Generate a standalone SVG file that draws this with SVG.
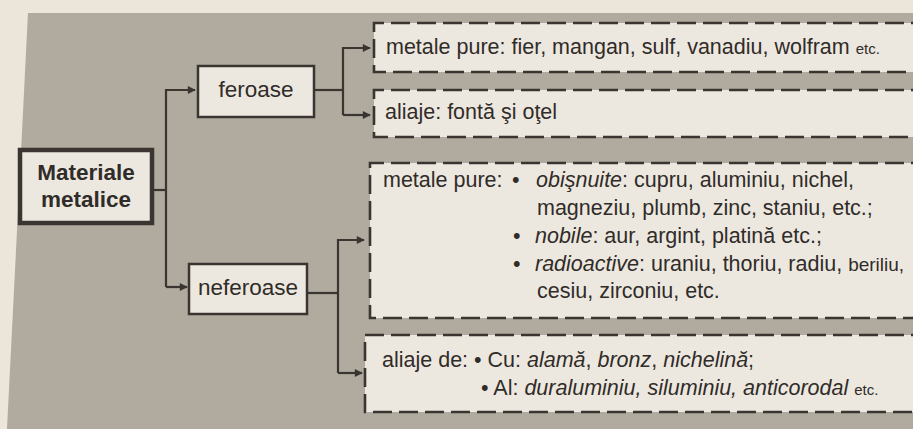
<svg xmlns="http://www.w3.org/2000/svg" width="913" height="429" viewBox="0 0 913 429">
<defs>
<style>
.node{fill:#ede8df;stroke:#3a3531;stroke-width:2.5}
.main{fill:#ede8df;stroke:#3a3531;stroke-width:4.5}
.dash{fill:#ede8df;stroke:#3a3531;stroke-width:2.6;stroke-dasharray:19 7}
.lbl{font-family:"Liberation Sans",Arial,sans-serif;font-size:22.5px;fill:#302c29}
.bold{font-weight:bold}
.txt{font-family:"Liberation Sans",Arial,sans-serif;font-size:21.5px;fill:#302c29}
.it{font-style:italic}
.sm{font-size:15px}
.con{fill:none;stroke:#3a3531;stroke-width:2.2}
</style>
<marker id="ah" viewBox="0 0 10 10" refX="9" refY="5" markerWidth="9" markerHeight="8" markerUnits="userSpaceOnUse" orient="auto">
<path d="M0,0 L10,5 L0,10 Z" fill="#3a3531"/>
</marker>
</defs>
<rect x="0" y="0" width="913" height="429" fill="#ebe5da"/>
<path d="M28,13 L913,13 L913,429 L7,429 Z" fill="#b0aa9f"/>

<g id="connectors">
<path class="con" d="M152,190 H166"/>
<path class="con" d="M166,287 V90 H195" marker-end="url(#ah)"/>
<path class="con" d="M166,287 H187" marker-end="url(#ah)"/>
<path class="con" d="M314,90 H343"/>
<path class="con" d="M343,115 V48 H370" marker-end="url(#ah)"/>
<path class="con" d="M343,115 H370" marker-end="url(#ah)"/>
<path class="con" d="M307,293 H338"/>
<path class="con" d="M338,373 V240 H364" marker-end="url(#ah)"/>
<path class="con" d="M338,373 H362" marker-end="url(#ah)"/>
</g>

<g id="materiale">
<rect class="main" x="20" y="150" width="132" height="73"/>
<text class="lbl bold" x="86" y="180" text-anchor="middle">Materiale</text>
<text class="lbl bold" x="86" y="207" text-anchor="middle">metalice</text>
</g>

<g id="feroase">
<rect class="node" x="198" y="66" width="116" height="51"/>
<text class="lbl" x="256" y="97" text-anchor="middle">feroase</text>
</g>

<g id="neferoase">
<rect class="node" x="189" y="264" width="118" height="50"/>
<text class="lbl" x="248" y="295" text-anchor="middle">neferoase</text>
</g>

<g id="fer-pure">
<path class="dash" d="M930,23 H374 V72 H930"/>
<text class="txt" x="386" y="54">metale pure: fier, mangan, sulf, vanadiu, wolfram <tspan class="sm">etc.</tspan></text>
</g>

<g id="fer-aliaje">
<path class="dash" d="M930,90 H374 V137 H930"/>
<text class="txt" x="385" y="119">aliaje: fontă şi oţel</text>
</g>

<g id="nefer-pure">
<path class="dash" d="M930,163 H370 V318 H930"/>
<text class="txt" x="383" y="187">metale pure:</text>
<text class="txt" x="512" y="187">•</text>
<text class="txt" x="536" y="187"><tspan class="it">obişnuite</tspan>: cupru, aluminiu, nichel,</text>
<text class="txt" x="537" y="215">magneziu, plumb, zinc, staniu, etc.;</text>
<text class="txt" x="513" y="243">•</text>
<text class="txt" x="535" y="243"><tspan class="it">nobile</tspan>: aur, argint, platină etc.;</text>
<text class="txt" x="513" y="271">•</text>
<text class="txt" x="535" y="271"><tspan class="it">radioactive</tspan>: uraniu, thoriu, radiu, <tspan font-size="19">beriliu,</tspan></text>
<text class="txt" x="537" y="298">cesiu, zirconiu, etc.</text>
</g>

<g id="nefer-aliaje">
<path class="dash" d="M930,335 H365 V412 H930"/>
<text class="txt" x="382" y="367">aliaje de: • Cu: <tspan class="it">alamă</tspan>, <tspan class="it">bronz</tspan>, <tspan class="it">nichelină</tspan>;</text>
<text class="txt" x="481" y="395">• Al: <tspan class="it">duraluminiu, siluminiu, anticorodal</tspan> <tspan class="sm">etc.</tspan></text>
</g>
</svg>
